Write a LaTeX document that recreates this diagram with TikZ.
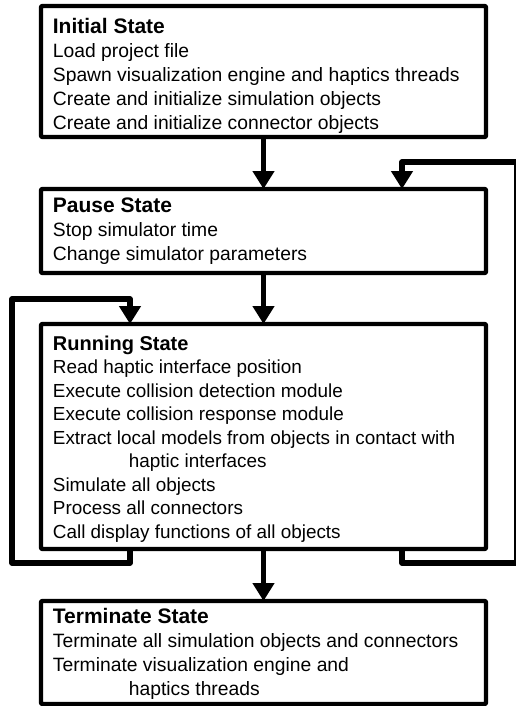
\documentclass[tikz,border=0pt]{standalone}
\usepackage{fontspec}
\setmainfont{Liberation Sans}
\usetikzlibrary{arrows.meta}
\newcommand{\statetitle}[2][21]{{\fontsize{#1}{24}\selectfont\bfseries #2}}
\begin{document}
\begin{tikzpicture}[x=1pt,y=-1pt,
  statebox/.style={draw=black,line width=4.3pt,anchor=north west,inner sep=0pt,
    outer sep=0pt,minimum width=445pt,line join=round,rounded corners=1pt},
  statetext/.style={anchor=north west,align=left,inner sep=0pt,
    font=\fontsize{19.3}{24.2}\selectfont},
  flow/.style={line width=5.5pt,line join=round,
    -{Triangle[width=21pt,length=18pt]}}
]
\useasboundingbox (0,0) rectangle (516,706);

% state boxes
\node[statebox,minimum height=131pt] (init) at (41,6) {};
\node[statebox,minimum height=84pt]  (pause) at (41,189) {};
\node[statebox,minimum height=225pt] (run) at (41,324) {};
\node[statebox,minimum height=103pt] (term) at (41,601) {};

% state descriptions
\node[statetext] (initT) at (52.7,17.7) {\statetitle{Initial State}\\
  Load project file\\
  Spawn visualization engine and haptics threads\\
  Create and initialize simulation objects\\
  Create and initialize connector objects};
\node[statetext] (pauseT) at (52.7,197.7) {\statetitle{Pause State}\\
  Stop simulator time\\
  Change simulator parameters};
\node[statetext,font=\fontsize{18.9}{23.5}\selectfont] (runT) at (52.7,335.5) {\statetitle[20]{Running State}\\
  Read haptic interface position\\
  Execute collision detection module\\
  Execute collision response module\\
  Extract local models from objects in contact with\\
  \hspace*{76pt}haptic interfaces\\
  Simulate all objects\\
  Process all connectors\\
  Call display functions of all objects};
\node[statetext] (termT) at (52.7,607.7) {\statetitle{Terminate State}\\
  Terminate all simulation objects and connectors\\
  Terminate visualization engine and\\
  \hspace*{76pt}haptics threads};

% loop corners
\coordinate (lb) at (12,563);
\coordinate (lt) at (12,299);
\coordinate (rb) at (517,563);
\coordinate (rt) at (517,162);

% transitions
\draw[flow] (init.south) -- (pause.north);
\draw[flow] (pause.south) -- (run.north);
\draw[flow] (run.south) -- (term.north);
\draw[flow] ([xshift=-133.5pt]run.south) |- (lb) -- (lt) -| ([xshift=-133.5pt]run.north);
\draw[flow] ([xshift=138.5pt]run.south) |- (rb) -- (rt) -| ([xshift=138.5pt]pause.north);
\end{tikzpicture}
\end{document}
